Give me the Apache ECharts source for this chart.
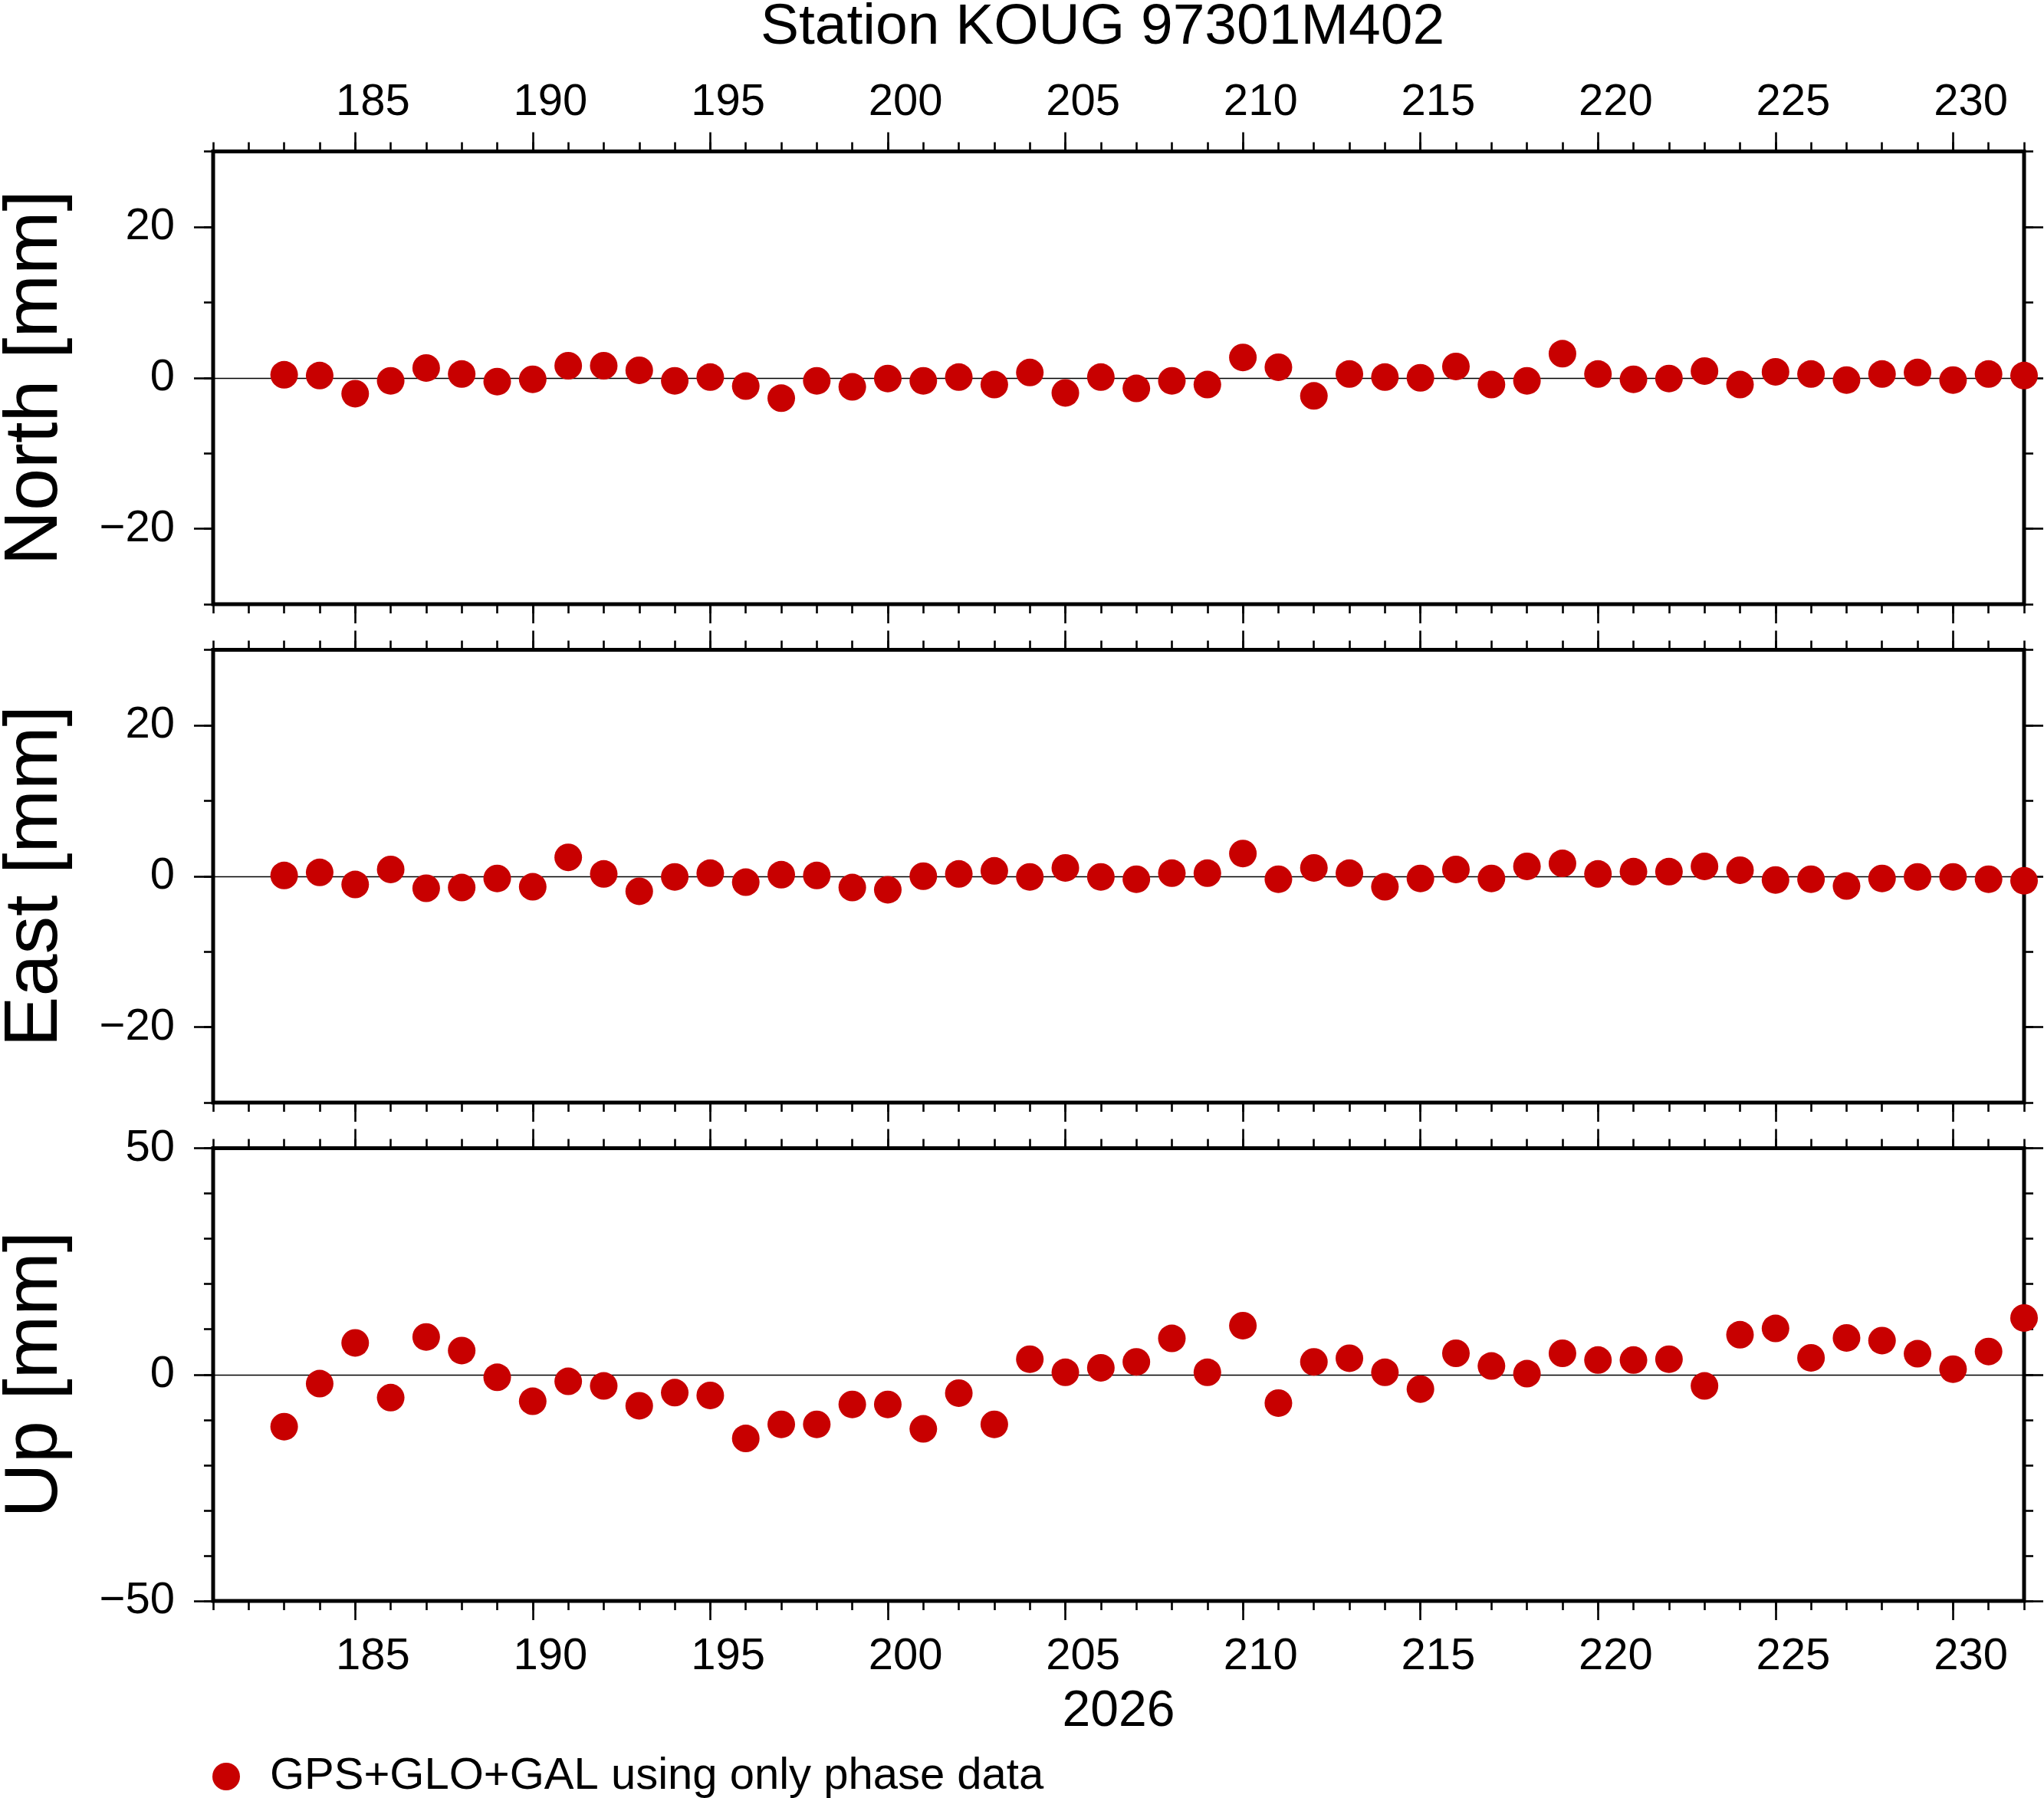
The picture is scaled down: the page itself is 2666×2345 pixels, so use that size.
<!DOCTYPE html>
<html lang="en">

<head>
  <meta charset="UTF-8">
  <title>Station KOUG 97301M402</title>
  <style>
    html, body { margin: 0; padding: 0; background: #fff; }
    #main { width: 2666px; height: 2345px; }
  </style>
</head>

<body>
  <div id="main"></div>

  <script src="https://cdn.jsdelivr.net/npm/echarts@6.0.0/dist/echarts.min.js"></script>

  <script>
    // day of year 2026
    const days = [183, 184, 185, 186, 187, 188, 189, 190, 191, 192, 193, 194, 195, 196, 197, 198, 199,
      200, 201, 202, 203, 204, 205, 206, 207, 208, 209, 210, 211, 212, 213, 214, 215, 216, 217, 218,
      219, 220, 221, 222, 223, 224, 225, 226, 227, 228, 229, 230, 231, 232]

    // residuals in mm
    const north = [0.4, 0.3, -2.1, -0.4, 1.3, 0.5, -0.5, -0.2, 1.6, 1.6, 1.0, -0.4, 0.1, -1.1, -2.7,
      -0.4, -1.2, -0.1, -0.4, 0.1, -0.9, 0.7, -2.0, 0.1, -1.4, -0.4, -0.9, 2.7, 1.4, -2.4, 0.5, 0.1,
      0, 1.5, -0.9, -0.4, 3.2, 0.5, -0.2, -0.1, 0.9, -0.9, 0.8, 0.5, -0.3, 0.5, 0.7, -0.3, 0.5, 0.3]

    const east = [0.1, 0.5, -1.1, 0.9, -1.6, -1.5, -0.3, -1.4, 2.5, 0.3, -2.0, -0.1, 0.4, -0.8, 0.2,
      0.1, -1.5, -1.8, 0, 0.3, 0.7, -0.1, 1.1, -0.1, -0.4, 0.4, 0.4, 3.0, -0.4, 1.1, 0.4, -1.4,
      -0.3, 0.9, -0.3, 1.3, 1.7, 0.3, 0.6, 0.6, 1.3, 0.8, -0.5, -0.4, -1.3, -0.3, -0.1, -0.1, -0.4, -0.6]

    const up = [-11.5, -2.0, 7.0, -5.1, 8.3, 5.3, -0.6, -5.9, -1.5, -2.5, -6.9, -4.0, -4.6, -14.1,
      -11.0, -11.0, -6.6, -6.6, -12.0, -4.1, -11.0, 3.4, 0.5, 1.5, 2.8, 8.0, 0.5, 10.8, -6.3, 2.8,
      3.6, 0.5, -3.2, 4.7, 1.9, 0.2, 4.7, 3.2, 3.2, 3.4, -2.5, 8.8, 10.2, 3.7, 8.1, 7.5, 4.6, 1.2, 5.1, 12.5]

    const xMajor = [185, 190, 195, 200, 205, 210, 215, 220, 225, 230]
    const neMajor = [-20, 0, 20]
    const upMajor = [-50, 0, 50]

    const seriesName = 'GPS+GLO+GAL using only phase data'
    const red = '#c80000'
    const font = "'Liberation Sans', Arial, Helvetica, sans-serif"

    const panels = [
      { name: 'North [mm]', values: north, min: -30, max: 30, majors: neMajor, top: 197.5 },
      { name: 'East [mm]', values: east, min: -30, max: 30, majors: neMajor, top: 847.5 },
      { name: 'Up [mm]', values: up, min: -50, max: 50, majors: upMajor, top: 1497.5 }
    ]

    const xMin = 181
    const xMax = 232
    const tickW = 2.6

    function minus(v) {
      return String(v).replace('-', '\u2212')
    }

    let grids = []
    let xAxes = []
    let yAxes = []
    let series = []

    panels.forEach(function (p, i) {
      grids.push({
        left: 278, right: 26, top: p.top, height: 590.5,
        outerBoundsMode: 'none', containLabel: false,
        show: true, borderColor: '#000', borderWidth: 5, backgroundColor: 'transparent'
      })

      // x axes: minor + major ticks on bottom and top
      ;['bottom', 'top'].forEach(function (pos) {
        xAxes.push({
          type: 'value', gridIndex: i, position: pos, min: xMin, max: xMax, interval: 1,
          axisLine: { show: false, onZero: false }, splitLine: { show: false },
          axisTick: { length: 12, lineStyle: { color: '#000', width: tickW } },
          axisLabel: { show: false }
        })
        const showLabels = (i === 0 && pos === 'top') || (i === 2 && pos === 'bottom')
        const ax = {
          type: 'value', gridIndex: i, position: pos, min: xMin, max: xMax,
          axisLine: { show: false, onZero: false }, splitLine: { show: false },
          axisTick: { customValues: xMajor, length: 25, lineStyle: { color: '#000', width: tickW } },
          axisLabel: {
            show: showLabels,
            // annotations sit centred on the day interval
            customValues: xMajor.map(function (d) { return d + 0.5 }),
            formatter: function (v) { return String(Math.floor(v)) },
            margin: pos === 'top' ? 35 : 44,
            color: '#000', fontSize: 58, fontFamily: font
          }
        }
        if (i === 2 && pos === 'bottom') {
          ax.name = '2026'
          ax.nameLocation = 'middle'
          ax.nameGap = 112
          ax.nameTextStyle = { color: '#000', fontSize: 66, fontFamily: font }
        }
        xAxes.push(ax)
      })

      // y axes: minor + major ticks on left and right
      ;['left', 'right'].forEach(function (pos) {
        yAxes.push({
          type: 'value', gridIndex: i, position: pos, min: p.min, max: p.max, interval: 10,
          axisLine: { show: false, onZero: false }, splitLine: { show: false },
          axisTick: { length: 12, lineStyle: { color: '#000', width: tickW } },
          axisLabel: { show: false }
        })
        const ay = {
          type: 'value', gridIndex: i, position: pos, min: p.min, max: p.max,
          axisLine: { show: false, onZero: false }, splitLine: { show: false },
          axisTick: { customValues: p.majors, length: 25, lineStyle: { color: '#000', width: tickW } },
          axisLabel: {
            show: pos === 'left',
            customValues: p.majors,
            formatter: minus,
            margin: 50,
            color: '#000', fontSize: 58, fontFamily: font
          }
        }
        if (pos === 'left') {
          ay.name = p.name
          ay.nameLocation = 'middle'
          ay.nameRotate = 90
          ay.nameGap = 182
          ay.nameTextStyle = { color: '#000', fontSize: 99, fontFamily: font }
        }
        yAxes.push(ay)
      })

      series.push({
        name: seriesName,
        type: 'scatter',
        xAxisIndex: i * 4 + 1,
        yAxisIndex: i * 4 + 1,
        data: days.map(function (d, k) { return [d, p.values[k]] }),
        symbol: 'circle',
        symbolSize: 36,
        itemStyle: { color: red, opacity: 1 },
        clip: false,
        z: 5,
        markLine: {
          silent: true,
          symbol: ['none', 'none'],
          label: { show: false },
          lineStyle: { color: '#000', width: 1.3, type: 'solid', opacity: 1 },
          data: [{ yAxis: 0 }]
        }
      })
    })

    const myChart = echarts.init(document.getElementById('main'))

    const option = {
      animation: false,
      backgroundColor: '#fff',
      title: {
        text: 'Station KOUG 97301M402',
        left: 1438,
        textAlign: 'center',
        top: -1,
        padding: 0,
        textStyle: { color: '#000', fontSize: 75, fontWeight: 'normal', fontFamily: font }
      },
      legend: {
        data: [{ name: seriesName, icon: 'circle' }],
        left: 277,
        top: 2288,
        padding: 0,
        itemWidth: 36,
        itemHeight: 36,
        selectedMode: false,
        itemStyle: { opacity: 1 },
        textStyle: { color: '#000', fontSize: 58, fontFamily: font, padding: [0, 0, 0, 34] }
      },
      grid: grids,
      xAxis: xAxes,
      yAxis: yAxes,
      series: series
    }

    myChart.setOption(option)
  </script>
</body>

</html>
